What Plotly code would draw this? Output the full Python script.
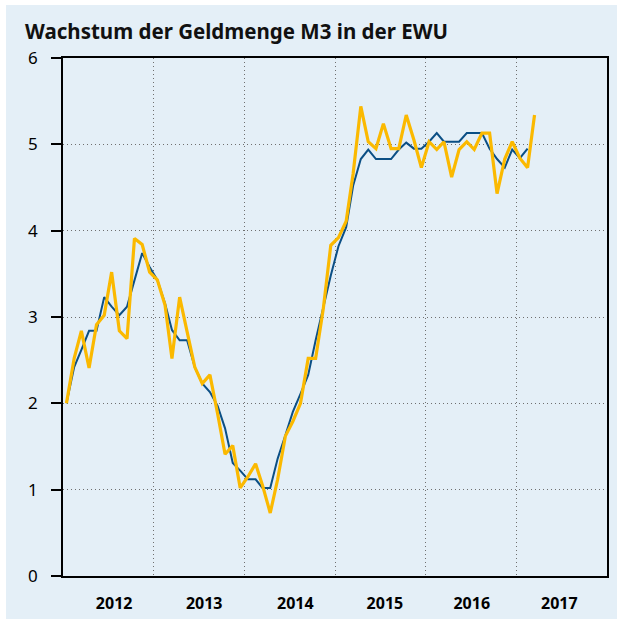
import pandas as pd
import plotly.graph_objects as go

# Monthly values from Jan 2012 (percent, year-on-year)
m3_growth = [2.00, 2.52, 2.84, 2.41, 2.91, 3.02, 3.52, 2.84, 2.75, 3.91, 3.84, 3.52,
             3.43, 3.14, 2.52, 3.23, 2.83, 2.42, 2.23, 2.33, 1.88, 1.41, 1.51, 1.02,
             1.15, 1.30, 1.05, 0.73, 1.12, 1.62, 1.79, 2.00, 2.52, 2.52, 3.10, 3.83,
             3.92, 4.11, 4.66, 5.44, 5.03, 4.95, 5.24, 4.95, 4.95, 5.34, 5.05, 4.73,
             5.03, 4.94, 5.03, 4.62, 4.94, 5.03, 4.94, 5.13, 5.13, 4.43, 4.83, 5.03,
             4.84, 4.73, 5.34]
m3_avg3 = [2.00, 2.42, 2.62, 2.84, 2.84, 3.23, 3.12, 3.02, 3.12, 3.43, 3.74, 3.58,
           3.43, 3.16, 2.85, 2.73, 2.73, 2.42, 2.23, 2.13, 1.97, 1.71, 1.31, 1.22,
           1.12, 1.12, 1.02, 1.02, 1.36, 1.63, 1.90, 2.11, 2.33, 2.73, 3.11, 3.48,
           3.82, 4.04, 4.52, 4.83, 4.94, 4.83, 4.83, 4.83, 4.94, 5.02, 4.95, 4.95,
           5.03, 5.13, 5.03, 5.03, 5.03, 5.13, 5.13, 5.13, 4.95, 4.83, 4.73, 4.94,
           4.84, 4.95]
year_labels = ["2012", "2013", "2014", "2015", "2016", "2017"]
y_ticks = [0, 1, 2, 3, 4, 5, 6]

start = pd.Timestamp("2012-01-01")
def mid_month(n):
    return [start + pd.DateOffset(months=i) + pd.Timedelta(days=14) for i in range(n)]

x_y = mid_month(len(m3_growth))
x_b = mid_month(len(m3_avg3))

label_shift_days = [24, 22, 24, 20, 4, -8]
tickvals = [pd.Timestamp(f"{y}-07-01") + pd.Timedelta(days=d)
            for y, d in zip(year_labels, label_shift_days)]

BG = "#e4eff7"
GRID = "#6f6f6f"
fig = go.Figure()
fig.add_trace(go.Scatter(x=x_b, y=m3_avg3, mode="lines",
                         line=dict(color="#0b4f85", width=2), showlegend=False))
fig.add_trace(go.Scatter(x=x_y, y=m3_growth, mode="lines",
                         line=dict(color="#fbb900", width=3.2), showlegend=False))

fig.add_shape(type="rect", xref="paper", yref="paper",
              x0=-0.1048, x1=1.0184, y0=-0.083, y1=1.1023,
              fillcolor=BG, line=dict(width=0), layer="below")

fig.update_layout(
    width=626, height=621,
    margin=dict(l=63, r=19, t=58, b=45),
    paper_bgcolor="white", plot_bgcolor="rgba(0,0,0,0)",
    font=dict(family="Noto Sans", color="black"),
    title=dict(text="<b>Wachstum der Geldmenge M3 in der EWU</b>",
               x=0.04, xanchor="left", xref="container",
               y=0.948, yanchor="middle", yref="container",
               font=dict(size=20.5, family="Noto Sans", color="#111")),
)
fig.update_xaxes(
    range=[start, pd.Timestamp("2018-01-01")],
    tickvals=tickvals, ticktext=[f"<b>{t}</b>" for t in year_labels],
    tickfont=dict(size=16, family="Noto Sans"),
    ticks="", showgrid=False, zeroline=False, automargin=False,
    showline=True, linecolor="black", linewidth=1.5, mirror=True,
    ticklabelstandoff=12,
    minor=dict(tick0="2012-01-01", dtick="M12", showgrid=True,
               gridcolor=GRID, griddash="1px,3px", gridwidth=1, ticks=""),
)
fig.update_yaxes(
    range=[0, 6], tickvals=y_ticks,
    tickfont=dict(size=17, family="Noto Sans"),
    ticks="outside", ticklen=10, tickwidth=1.5, tickcolor="black",
    showgrid=True, gridcolor=GRID, griddash="1px,3px", gridwidth=1,
    zeroline=False, showline=True, linecolor="black", linewidth=1.5, mirror=True,
    ticklabelstandoff=10, automargin=False,
)
fig.write_html("out.html", config={"displayModeBar": False},
               post_script="document.body.style.margin='0px';")
